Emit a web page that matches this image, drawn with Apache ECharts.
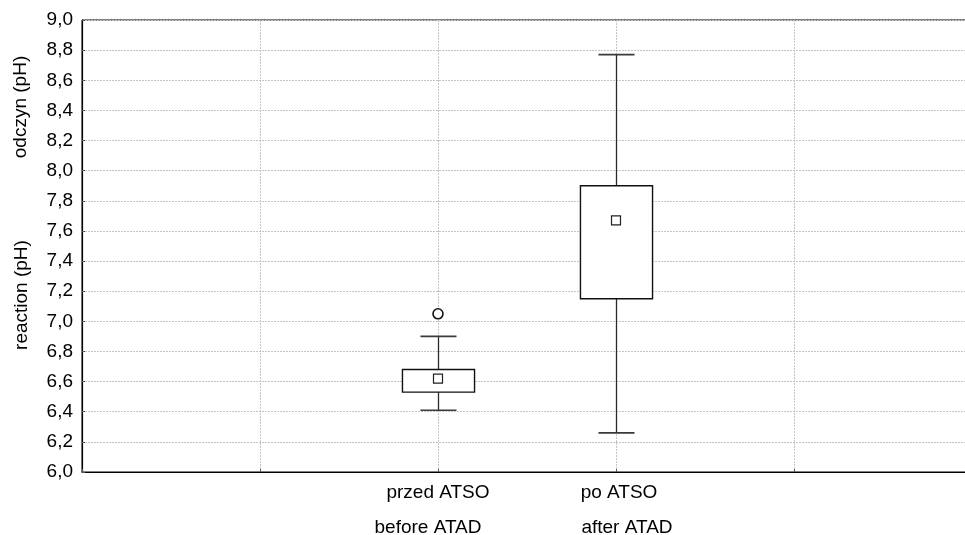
<!DOCTYPE html>
<html>
<head>
<meta charset="utf-8">
<script src="https://cdn.jsdelivr.net/npm/echarts@6/dist/echarts.min.js"></script>
<style>html,body{margin:0;padding:0;background:#fff;overflow:hidden;}#c{width:965px;height:535px;}</style>
</head>
<body>
<div id="c"></div>
<script>
const categories = ['', '', 'przed ATSO\nbefore ATAD', 'po ATSO\nafter ATAD', '', ''];
const boxPositions = [2, 3];
const whiskerLow = [6.41, 6.26];
const q1 = [6.53, 7.15];
const q3 = [6.68, 7.90];
const whiskerHigh = [6.90, 8.77];
const means = [6.62, 7.67];
const outlierPos = [2];
const outlierVals = [7.05];
const yMin = 6.0, yMax = 9.0, yStep = 0.2;
const yTitles = ['odczyn (pH)', 'reaction (pH)'];

const FONT = 'Arial, "Liberation Sans", sans-serif';
const chart = echarts.init(document.getElementById('c'), null, {renderer: 'canvas'});

const boxData = boxPositions.map((p, i) => [p, whiskerLow[i], q1[i], q3[i], whiskerHigh[i]]);
const meanData = boxPositions.map((p, i) => [p, means[i]]);
const outData = outlierPos.map((p, i) => [p, outlierVals[i]]);

function renderBox(params, api) {
  const x = api.value(0);
  const pLow = api.coord([x, api.value(1)]);
  const pQ1 = api.coord([x, api.value(2)]);
  const pQ3 = api.coord([x, api.value(3)]);
  const pHigh = api.coord([x, api.value(4)]);
  const band = api.size([1, 0])[0];
  const bw = band * 0.405;
  const cw = bw / 2;
  const cx = Math.round(pQ1[0]) + 0.5;
  const wStyle = {stroke: '#2a2a2a', lineWidth: 1.3};
  const cStyle = {stroke: '#3a3a3a', lineWidth: 1.6};
  return {
    type: 'group',
    children: [
      {type: 'line', shape: {x1: cx, y1: pQ3[1], x2: cx, y2: pHigh[1]}, style: wStyle},
      {type: 'line', shape: {x1: cx - cw / 2, y1: pHigh[1], x2: cx + cw / 2, y2: pHigh[1]}, style: cStyle},
      {type: 'line', shape: {x1: cx, y1: pQ1[1], x2: cx, y2: pLow[1]}, style: wStyle},
      {type: 'line', shape: {x1: cx - cw / 2, y1: pLow[1], x2: cx + cw / 2, y2: pLow[1]}, style: cStyle},
      {type: 'rect', shape: {x: cx - bw / 2, y: pQ3[1], width: bw, height: pQ1[1] - pQ3[1]},
       style: {fill: '#fff', stroke: '#111', lineWidth: 1.4}}
    ]
  };
}

function catLabel(v, idx) {
  if (!v) return '';
  const parts = v.split('\n');
  const k = idx === 2 ? '1' : '2';
  return '{a' + k + '|' + parts[0] + '}\n{b' + k + '|' + parts[1] + '}';
}

const labelBase = {color: '#000', fontFamily: FONT, fontSize: 19, lineHeight: 35};

chart.setOption({
  animation: false,
  backgroundColor: '#fff',
  grid: {left: 82, top: 20, width: 890, height: 452, outerBoundsMode: 'none', containLabel: false,
         show: true, borderColor: '#000', borderWidth: 1, backgroundColor: 'transparent'},
  xAxis: {
    type: 'category',
    data: categories,
    boundaryGap: false,
    axisLine: {lineStyle: {color: '#000', width: 1.2}},
    axisTick: {inside: true, length: 3, lineStyle: {color: '#555'}},
    splitLine: {show: true, lineStyle: {color: '#c4c4c4', type: [2, 1], width: 1}},
    axisLabel: Object.assign({}, labelBase, {margin: 3, interval: 0, formatter: catLabel,
      rich: {
        a1: Object.assign({}, labelBase, {padding: [0, 0, 0, 0]}),
        b1: Object.assign({}, labelBase, {padding: [0, 20, 0, 0]}),
        a2: Object.assign({}, labelBase, {padding: [0, 0, 0, 6]}),
        b2: Object.assign({}, labelBase, {padding: [0, 0, 0, 22]})
      }})
  },
  yAxis: {
    type: 'value',
    min: yMin, max: yMax, interval: yStep,
    axisLine: {show: true, lineStyle: {color: '#000', width: 1.2}},
    axisTick: {show: true, inside: true, length: 3, lineStyle: {color: '#555'}},
    splitLine: {show: true, lineStyle: {color: '#c4c4c4', type: [2, 1], width: 1}},
    axisLabel: {color: '#000', fontFamily: FONT, fontSize: 19, margin: 9,
      formatter: v => v.toFixed(1).replace('.', ',')}
  },
  graphic: [
    {type: 'text', x: 21, y: 107, rotation: Math.PI / 2, style: {text: yTitles[0], fill: '#000', font: '19px ' + FONT, align: 'center', verticalAlign: 'middle'}},
    {type: 'text', x: 22, y: 295, rotation: Math.PI / 2, style: {text: yTitles[1], fill: '#000', font: '19px ' + FONT, align: 'center', verticalAlign: 'middle'}}
  ],
  series: [
    {type: 'custom', renderItem: renderBox, data: boxData, encode: {x: 0, y: [1, 2, 3, 4]}, z: 3},
    {type: 'scatter', data: meanData, symbol: 'rect', symbolSize: 9,
     itemStyle: {color: '#fff', borderColor: '#222', borderWidth: 1.2, opacity: 1}, z: 4},
    {type: 'scatter', data: outData, symbol: 'circle', symbolSize: 10,
     itemStyle: {color: '#fff', borderColor: '#111', borderWidth: 1.6, opacity: 1}, z: 4}
  ]
});
</script>
</body>
</html>
